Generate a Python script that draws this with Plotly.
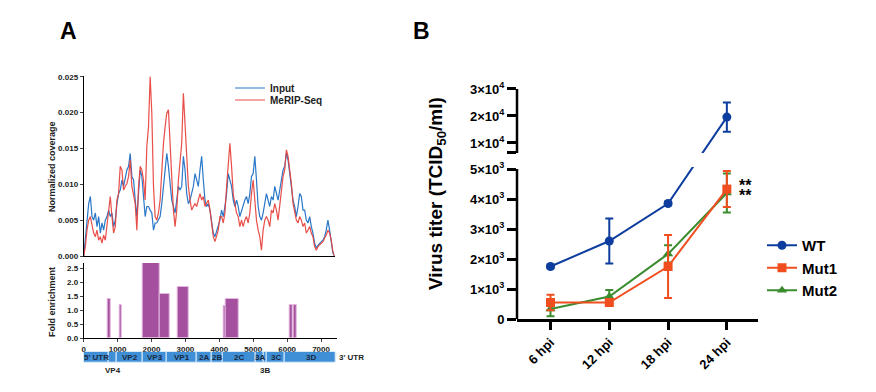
import numpy as np
import plotly.graph_objects as go

W, H = 876, 392
OFF = 8  # page body margin of the browser
FW, FH = W - 2 * OFF, H - 2 * OFF
FONT = "Arial, Liberation Sans, sans-serif"


def px(x):
    return (x - OFF) / FW


def py(y):
    return 1 - (y - OFF) / FH


# ---------------- Panel A data ----------------
cov_step_nt = 49  # spacing of coverage samples along the genome (nt)
input_cov = [0, 0.0022, 0.0050, 0.0073, 0.0083, 0.0055, 0.0050, 0.0060, 0.0041, 0.0055,
             0.0032, 0.0046, 0.0036, 0.0050, 0.0055, 0.0064, 0.0055, 0.0060, 0.0041, 0.0050,
             0.0073, 0.0087, 0.0092, 0.0106, 0.0097, 0.0111, 0.0120, 0.0125, 0.0143, 0.0111,
             0.0106, 0.0078, 0.0055, 0.0087, 0.0120, 0.0111, 0.0078, 0.0055, 0.0069, 0.0069,
             0.0064, 0.0060, 0.0036, 0.0046, 0.0046, 0.0050, 0.0055, 0.0073, 0.0097, 0.0115,
             0.0143, 0.0125, 0.0097, 0.0078, 0.0069, 0.0060, 0.0078, 0.0097, 0.0092, 0.0097,
             0.0139, 0.0120, 0.0087, 0.0073, 0.0078, 0.0087, 0.0097, 0.0115, 0.0106, 0.0097,
             0.0120, 0.0139, 0.0106, 0.0078, 0.0069, 0.0073, 0.0064, 0.0046, 0.0032, 0.0027,
             0.0036, 0.0041, 0.0050, 0.0064, 0.0055, 0.0069, 0.0087, 0.0115, 0.0106, 0.0097,
             0.0078, 0.0069, 0.0078, 0.0069, 0.0055, 0.0064, 0.0069, 0.0078, 0.0083, 0.0073,
             0.0087, 0.0111, 0.0115, 0.0139, 0.0106, 0.0069, 0.0055, 0.0050, 0.0060, 0.0073,
             0.0087, 0.0078, 0.0069, 0.0083, 0.0078, 0.0097, 0.0087, 0.0078, 0.0092, 0.0106,
             0.0120, 0.0125, 0.0143, 0.0134, 0.0115, 0.0097, 0.0078, 0.0069, 0.0055, 0.0069,
             0.0087, 0.0083, 0.0064, 0.0064, 0.0050, 0.0046, 0.0055, 0.0041, 0.0032, 0.0018,
             0.0011, 0.0015, 0.0018, 0.0020, 0.0022, 0.0027, 0.0036, 0.0050, 0.0036, 0.0018,
             0.0004, 0.0]
merip_cov = [0, 0.0013, 0.0036, 0.0050, 0.0055, 0.0041, 0.0032, 0.0027, 0.0036, 0.0022,
             0.0027, 0.0018, 0.0029, 0.0022, 0.0041, 0.0060, 0.0083, 0.0055, 0.0032, 0.0041,
             0.0078, 0.0087, 0.0125, 0.0120, 0.0092, 0.0097, 0.0101, 0.0111, 0.0134, 0.0097,
             0.0087, 0.0073, 0.0036, 0.0097, 0.0125, 0.0120, 0.0106, 0.0078, 0.0153, 0.0180,
             0.0250, 0.0199, 0.0097, 0.0055, 0.0050, 0.0060, 0.0078, 0.0120, 0.0157, 0.0180,
             0.0199, 0.0204, 0.0157, 0.0115, 0.0064, 0.0041, 0.0064, 0.0106, 0.0134, 0.0157,
             0.0227, 0.0180, 0.0134, 0.0097, 0.0078, 0.0064, 0.0069, 0.0073, 0.0069, 0.0078,
             0.0087, 0.0078, 0.0083, 0.0069, 0.0073, 0.0078, 0.0064, 0.0041, 0.0027, 0.0020,
             0.0027, 0.0036, 0.0055, 0.0055, 0.0046, 0.0060, 0.0097, 0.0134, 0.0157, 0.0125,
             0.0087, 0.0073, 0.0060, 0.0055, 0.0041, 0.0050, 0.0041, 0.0050, 0.0055, 0.0046,
             0.0060, 0.0087, 0.0106, 0.0078, 0.0050, 0.0036, 0.0027, 0.0008, 0.0036, 0.0050,
             0.0055, 0.0050, 0.0041, 0.0064, 0.0060, 0.0073, 0.0064, 0.0050, 0.0073, 0.0087,
             0.0111, 0.0120, 0.0148, 0.0139, 0.0120, 0.0101, 0.0073, 0.0060, 0.0050, 0.0046,
             0.0055, 0.0050, 0.0041, 0.0046, 0.0032, 0.0036, 0.0041, 0.0032, 0.0027, 0.0013,
             0.0008, 0.0013, 0.0015, 0.0018, 0.0020, 0.0025, 0.0029, 0.0036, 0.0032, 0.0022,
             0.0006, 0.0]

fold_start = [708, 1062, 1740, 2231, 2782, 4129, 4198, 6085, 6203]
fold_end = [806, 1121, 2231, 2546, 3087, 4198, 4561, 6164, 6271]
fold_value = [1.38, 1.18, 2.69, 1.56, 1.83, 1.14, 1.38, 1.18, 1.18]

gene_names = ["5' UTR", "VP4", "VP2", "VP3", "VP1", "2A", "2B", "2C", "3A", "3B", "3C", "3D"]
gene_start = [0, 727, 973, 1740, 2448, 3332, 3775, 4089, 5072, 5318, 5397, 5938]
gene_end = [727, 973, 1740, 2448, 3332, 3775, 4089, 5072, 5318, 5397, 5938, 7441]
genes_labelled_below = ["VP4", "3B"]
utr3_label = "3' UTR"

# ---------------- Panel B data ----------------
timepoints = ["6 hpi", "12 hpi", "18 hpi", "24 hpi"]
wt_mean = [1750, 2600, 3850, 19600]
wt_err = [60, 750, 60, 5400]
mut1_mean = [550, 550, 1750, 4330]
mut1_err = [260, 110, 1050, 600]
mut2_mean = [330, 750, 2170, 4200]
mut2_err = [240, 220, 290, 650]
y_tick_values = [0, 1000, 2000, 3000, 4000, 5000, 10000, 20000, 30000]
y_tick_labels = ["0", "1×10<sup>3</sup>", "2×10<sup>3</sup>", "3×10<sup>3</sup>", "4×10<sup>3</sup>",
                 "5×10<sup>3</sup>", "1×10<sup>4</sup>", "2×10<sup>4</sup>", "3×10<sup>4</sup>"]

# broken y scale for panel B (lower segment linear up to 5000, compressed upper segment)
LOW_TOP = 5000
UP_REF, UP_BASE, UP_K = 10000, 5867, 0.09
UP_START = 6300


def disp(v):
    v = np.asarray(v, dtype=float)
    return np.where(v <= LOW_TOP + 500, v, UP_BASE + (v - UP_REF) * UP_K)


def err_arrays(m, e):
    m = np.asarray(m, float)
    e = np.asarray(e, float)
    return (disp(m + e) - disp(m)).tolist(), (disp(m) - disp(m - e)).tolist()


fig = go.Figure()

# ---------- Panel A: coverage ----------
cov_pos = [i * cov_step_nt for i in range(len(input_cov))]
fig.add_trace(go.Scatter(x=cov_pos, y=input_cov, mode="lines", name="Input",
                         line=dict(color="#2a78c8", width=1.2), xaxis="x2", yaxis="y2",
                         legend="legend2"))
fig.add_trace(go.Scatter(x=cov_pos, y=merip_cov, mode="lines", name="MeRIP-Seq",
                         line=dict(color="#e8403a", width=1.2), opacity=0.92, xaxis="x2", yaxis="y2",
                         legend="legend3"))

# ---------- Panel A: fold enrichment ----------
fold_center = [(s + e) / 2 for s, e in zip(fold_start, fold_end)]
fold_width = [e - s for s, e in zip(fold_start, fold_end)]
fig.add_trace(go.Bar(x=fold_center, y=fold_value, width=fold_width, xaxis="x3", yaxis="y3",
                     marker=dict(color="#a4509e", line=dict(color="#e3b6de", width=1)),
                     showlegend=False))

# ---------- Panel A: genome map ----------
gene_len = [e - s for s, e in zip(gene_start, gene_end)]
fig.add_trace(go.Bar(y=[0] * len(gene_names), x=gene_len, base=gene_start, orientation="h",
                     width=1, xaxis="x4", yaxis="y4", showlegend=False,
                     marker=dict(color="#3f8fd6", line=dict(color="#d8ecfa", width=1))))

# ---------- Panel B: virus titers ----------
series = [("Mut2", mut2_mean, mut2_err, "#3a8c2f", "triangle-up", 3),
          ("Mut1", mut1_mean, mut1_err, "#f04e1e", "square", 2),
          ("WT", wt_mean, wt_err, "#0d3d9e", "circle", 1)]
for name, m, e, col, sym, rank in series:
    ep, em = err_arrays(m, e)
    fig.add_trace(go.Scatter(
        x=timepoints, y=disp(m).tolist(), mode="lines+markers", name=name, legendrank=rank,
        line=dict(color=col, width=2), marker=dict(color=col, symbol=sym, size=9),
        error_y=dict(type="data", array=ep, arrayminus=em, color=col, thickness=2, width=4),
        cliponaxis=False, xaxis="x", yaxis="y"))

annotations = []
shapes = []

# axis break in panel B: blank band + two axis segments
shapes.append(dict(type="rect", xref="x domain", yref="y", x0=0.02, x1=1.0,
                   y0=LOW_TOP + 70, y1=float(disp(UP_START)) - 2,
                   fillcolor="white", line=dict(width=0), layer="above"))
shapes.append(dict(type="line", xref="x domain", yref="y", x0=0, x1=0, y0=0, y1=LOW_TOP,
                   line=dict(color="black", width=2.5), layer="above"))
shapes.append(dict(type="line", xref="x domain", yref="y", x0=0, x1=0,
                   y0=float(disp(UP_START)), y1=float(disp(30000)),
                   line=dict(color="black", width=2.5), layer="above"))

# significance stars
for ys in (4, -6):
    annotations.append(dict(x=timepoints[3], y=float(disp(mut1_mean[3])), xref="x", yref="y",
                            text="**", showarrow=False, xshift=19, yshift=ys,
                            font=dict(size=16, family=FONT, color="black", weight="bold")))


def paper_text(x, y, text, size, color="black", angle=0):
    annotations.append(dict(x=px(x), y=py(y), xref="paper", yref="paper", text=text,
                            textangle=angle, showarrow=False, xanchor="center", yanchor="middle",
                            font=dict(size=size, family=FONT, color=color, weight="bold")))


paper_text(437, 194, "Virus titer (TCID<sub>50</sub>/ml)", 19, angle=-90)
paper_text(68, 31, "A", 23)
paper_text(421, 31, "B", 23)
paper_text(52, 167, "Normalized coverage", 9, "#222", -90)
paper_text(52, 302, "Fold enrichment", 9, "#222", -90)

# genome labels
for n, s, e in zip(gene_names, gene_start, gene_end):
    c = (s + e) / 2
    if n in genes_labelled_below:
        annotations.append(dict(x=c, y=-0.5, xref="x4", yref="y4", text=n, showarrow=False,
                                xanchor="center", yanchor="top", yshift=-1,
                                font=dict(size=8, family=FONT, color="#222", weight="bold")))
    else:
        annotations.append(dict(x=c, y=0, xref="x4", yref="y4", text=n, showarrow=False,
                                xanchor="center", yanchor="middle",
                                font=dict(size=8, family=FONT, color="#1a2840", weight="bold")))
annotations.append(dict(x=gene_end[-1], y=0, xref="x4", yref="y4", text=utr3_label, showarrow=False,
                        xanchor="left", yanchor="middle", xshift=1,
                        font=dict(size=8, family=FONT, color="#222", weight="bold")))

tickA = dict(size=8, family=FONT, color="#222", weight="bold")
legA = dict(xanchor="left", yanchor="middle", bgcolor="rgba(0,0,0,0)",
            font=dict(size=10, family=FONT, color="#222", weight="bold"), itemwidth=30)

fig.update_layout(
    width=FW, height=FH, margin=dict(l=0, r=0, t=0, b=0, autoexpand=False),
    paper_bgcolor="white", plot_bgcolor="rgba(0,0,0,0)",
    font=dict(family=FONT, color="black"),
    bargap=0,
    # Panel B axes
    xaxis=dict(domain=[px(517), px(758)], range=[-0.57, 3.53], type="category", automargin=False,
               showline=True, linecolor="black", linewidth=2.5, ticks="outside", ticklen=8,
               tickwidth=2.5, tickcolor="black", tickangle=-45, showgrid=False, zeroline=False,
               tickfont=dict(size=13, family=FONT, color="black", weight="bold"), anchor="y"),
    yaxis=dict(domain=[py(319), py(88)], range=[0, 7700], showline=False, automargin=False,
               tickvals=disp(y_tick_values + [UP_START]).tolist(), ticktext=y_tick_labels + [""],
               ticks="outside", ticklen=9, tickwidth=2.5, tickcolor="black", showgrid=False,
               zeroline=False, tickfont=dict(size=13, family=FONT, color="black", weight="bold"),
               anchor="x"),
    # Panel A coverage
    xaxis2=dict(domain=[px(83.7), px(334.6)], range=[0, 7400], showline=True, linecolor="black",
                linewidth=1, showticklabels=False, ticks="", showgrid=False, zeroline=False,
                automargin=False, anchor="y2"),
    yaxis2=dict(domain=[py(256), py(76)], range=[0, 0.0251], showline=True, linecolor="black",
                linewidth=1, tickvals=[0, 0.005, 0.01, 0.015, 0.02, 0.025], tickformat=".3f",
                ticks="outside", ticklen=3, tickwidth=1, showgrid=False, zeroline=False,
                automargin=False, tickfont=tickA, anchor="x2"),
    # Panel A fold enrichment
    xaxis3=dict(domain=[px(83.7), px(337.3)], range=[0, 7480], showline=True, linecolor="black",
                linewidth=1, dtick=1000, tick0=0, ticks="outside", ticklen=3, tickwidth=1,
                automargin=False, showgrid=False, zeroline=False, tickfont=tickA, anchor="y3"),
    yaxis3=dict(domain=[py(338), py(263)], range=[0, 2.68], showline=True, linecolor="black",
                linewidth=1, dtick=0.5, tick0=0, tickformat=".1f", ticks="outside", ticklen=3,
                automargin=False, tickwidth=1, showgrid=False, zeroline=False, tickfont=tickA,
                anchor="x3"),
    # Panel A genome map
    xaxis4=dict(domain=[px(83.7), px(337.3)], range=[0, 7480], visible=False, automargin=False,
                anchor="y4"),
    yaxis4=dict(domain=[py(362.7), py(351.7)], range=[-0.5, 0.5], visible=False,
                automargin=False, anchor="x4"),
    legend=dict(x=px(762), y=py(229), xanchor="left", yanchor="top", bgcolor="rgba(0,0,0,0)",
                font=dict(size=15, family=FONT, color="black", weight="bold"), itemwidth=30),
    legend2=dict(x=px(230), y=py(88), **legA),
    legend3=dict(x=px(230), y=py(100), **legA),
    annotations=annotations,
    shapes=shapes,
)

fig.write_html("out.html")
